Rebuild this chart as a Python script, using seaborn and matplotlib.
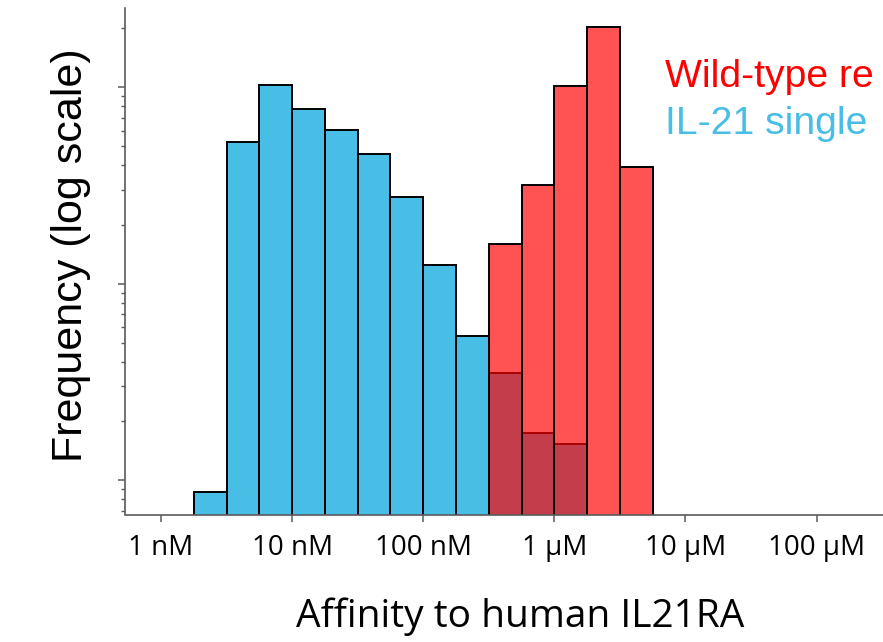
import numpy as np
import matplotlib
matplotlib.use("Agg")
import matplotlib.pyplot as plt
import seaborn as sns
from matplotlib.ticker import NullFormatter, NullLocator

# log10(Kd in M) at the middle of each quarter-decade bin, and bar heights
mutant_log_kd = [-8.625, -8.375, -8.125, -7.875, -7.625, -7.375, -7.125,
                 -6.875, -6.625, -6.375, -6.125, -5.875]
mutant_freq = [0.87, 52.7, 103, 77.6, 60.5, 45.9, 27.6, 12.5, 5.39, 3.49, 1.74, 1.53]

wt_log_kd = [-6.375, -6.125, -5.875, -5.625, -5.375]
wt_freq = [15.9, 31.7, 102, 204, 39.4]

tick_log_kd = [-9, -8, -7, -6, -5, -4]
tick_labels = ["1 nM", "10 nM", "100 nM", "1 µM", "10 µM", "100 µM"]

BLUE = "#48BDE5"
AXIS_GREY = "#5a5a5a"

sns.set_style("ticks")
plt.rcParams["font.family"] = ["Liberation Sans", "DejaVu Sans"]
ticks_font = ["Open Sans", "DejaVu Sans"]

fig = plt.figure(figsize=(8.83, 6.42), dpi=100)
# axes runs past the right edge of the picture, like the cropped original
ax = fig.add_axes([125.5 / 883, 127.5 / 642, 782.8 / 883, 506 / 642])

sns.histplot(x=np.power(10.0, mutant_log_kd), weights=mutant_freq, log_scale=True,
             binwidth=0.25, binrange=(-8.75, -5.75), color=BLUE, alpha=1,
             edgecolor="black", linewidth=1.4, ax=ax)
sns.histplot(x=np.power(10.0, wt_log_kd), weights=wt_freq, log_scale=True,
             binwidth=0.25, binrange=(-6.5, -5.25), color="red", alpha=0.68,
             edgecolor="black", linewidth=1.4, ax=ax)

ax.set_yscale("log")
ax.set_xlim(10 ** -9.271, 10 ** -3.3)
ax.set_ylim(0.668, 252)

ax.set_xticks(np.power(10.0, tick_log_kd))
ax.set_xticklabels(tick_labels, fontfamily=ticks_font, fontsize=20)
ax.xaxis.set_minor_locator(NullLocator())
ax.yaxis.set_major_formatter(NullFormatter())
ax.yaxis.set_minor_formatter(NullFormatter())

for side in ["top", "right"]:
    ax.spines[side].set_visible(False)
for side in ["left", "bottom"]:
    ax.spines[side].set_color(AXIS_GREY)
    ax.spines[side].set_linewidth(1.2)
ax.tick_params(axis="x", which="major", length=5.2, width=1.1, color=AXIS_GREY,
               labelcolor="black", pad=9)
ax.tick_params(axis="y", which="major", length=5.2, width=1.1, color=AXIS_GREY)
ax.tick_params(axis="y", which="minor", length=3.2, width=1.0, color=AXIS_GREY)

ax.set_ylabel("Frequency (log scale)", fontsize=31, color="black")
ax.yaxis.set_label_coords(-0.044, 0.512)
ax.set_xlabel("Affinity to human IL21RA", fontfamily=ticks_font, fontsize=28,
              color="black")
ax.xaxis.set_label_coords(0.5046, -0.1638)

# the key labels run off the right edge of the figure, as in the original
fig.text(665 / 883, (642 - 86.7) / 642, "Wild-type re", color="red",
         fontsize=28.2, va="baseline", ha="left")
fig.text(665 / 883, (642 - 134.3) / 642, "IL-21 single", color=BLUE,
         fontsize=28.2, va="baseline", ha="left")

fig.savefig("out.png", dpi=100)
plt.close(fig)
